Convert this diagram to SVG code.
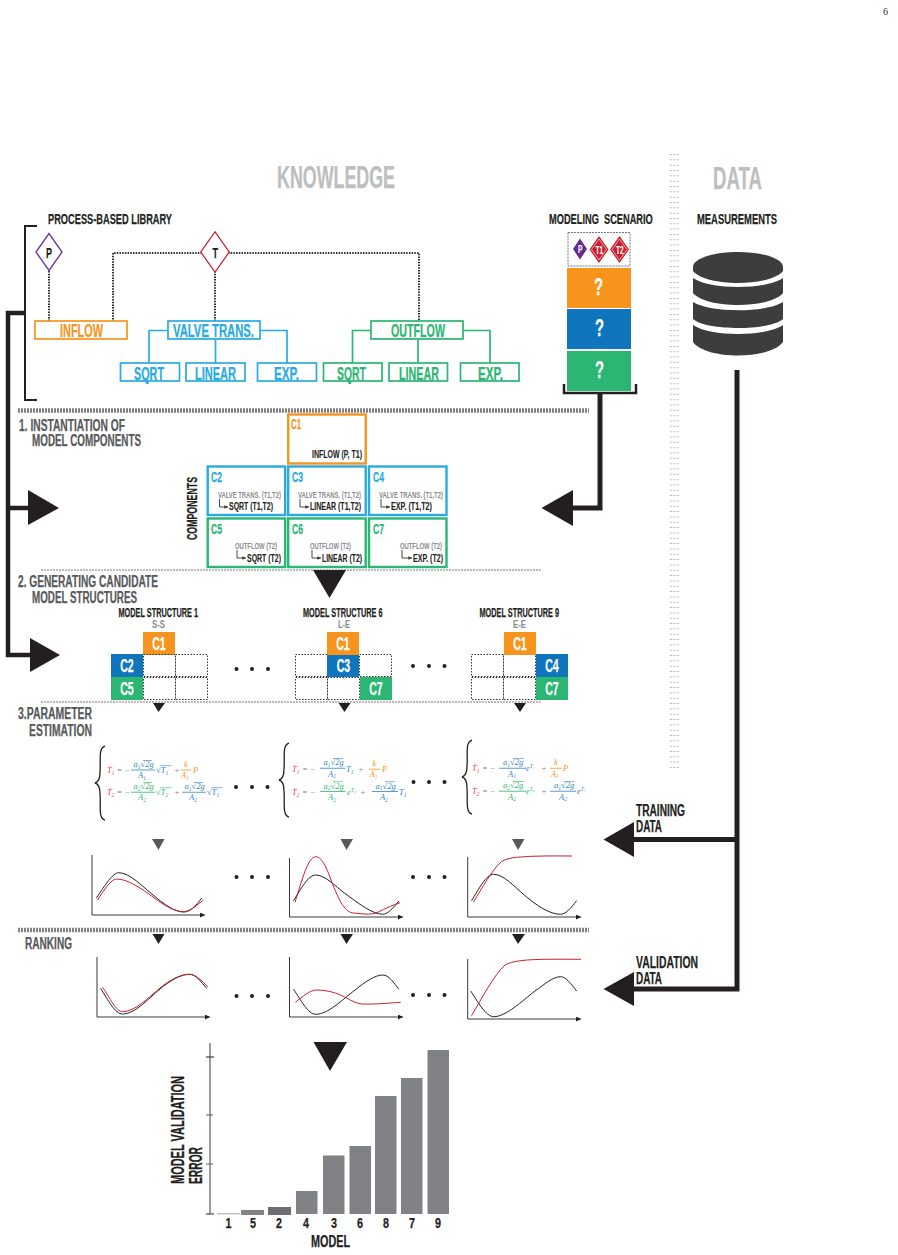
<svg xmlns="http://www.w3.org/2000/svg" width="898" height="1255" viewBox="0 0 898 1255">
<style>
text{font-family:"Liberation Sans Narrow","Liberation Sans",Arial,sans-serif;font-weight:700;stroke-width:.25}
.k{fill:#231f20;stroke:#231f20}.gy{fill:#58595b;stroke:#58595b}.lg{fill:#bcbec0;stroke:#bcbec0}.mg{fill:#8a8c8e}.w{fill:#fff;stroke:#fff}
.or{fill:#f7941d;stroke:#f7941d}.bl{fill:#29abe2;stroke:#29abe2}.gr{fill:#2bb673;stroke:#2bb673}
.h0{font-size:32px}.h1{font-size:15px}.h2{font-size:16px}.h3{font-size:19px}.h4{font-size:23px}.sm{font-size:10px;stroke-width:.1}.xs{font-size:9.500px}.c{font-size:15px}
.cw{font-size:18px;fill:#fff;stroke:#fff;text-anchor:middle}
.line{fill:none;stroke:#231f20}
.dot{fill:none;stroke:#333;stroke-width:2;stroke-dasharray:1.500 1.200}
.bo{fill:none;stroke:#f7941d;stroke-width:1.700}.bb{fill:none;stroke:#29abe2;stroke-width:1.700}.bg{fill:none;stroke:#2bb673;stroke-width:1.700}
.cb{fill:none;stroke-width:2.400}
.bar{fill:none;stroke:#808285;stroke-width:4.500;stroke-dasharray:2 1}
.thin{fill:none;stroke:#777;stroke-width:1;stroke-dasharray:2 1}
.cell{fill:none;stroke:#333;stroke-width:1;stroke-dasharray:1.500 1.500}
.tri{fill:#231f20}.trg{fill:#58595b}
.dots{fill:#231f20}
.ax{fill:none;stroke:#3a3a3a;stroke-width:1}
.cK{fill:none;stroke:#231f20;stroke-width:1}.cR{fill:none;stroke:#c8202f;stroke-width:1}
.ar{fill:none;stroke:#333;stroke-width:.9}
.col{fill:none;stroke:#c4c4c4;stroke-width:2.400;stroke-dasharray:1 4.330}
.m text,text.mt{font-family:"Liberation Serif","DejaVu Serif",serif;font-style:italic;font-weight:400;font-size:8.500px;stroke:none}
.m .s{font-size:5.500px}
.mr{fill:#e8424f}.mn{fill:#808285;font-style:normal}.mb{fill:#2f86c8}.mo{fill:#f7941d}.mgn{fill:#2bb673}
</style>
<defs>
<marker id="ah" markerWidth="5" markerHeight="5" refX="4" refY="2" orient="auto"><path d="M0 0L4 2L0 4Z" fill="#333"/></marker>
<marker id="axh" markerWidth="6" markerHeight="6" refX="5" refY="2.500" orient="auto" markerUnits="userSpaceOnUse"><path d="M0 0L5 2.500L0 5Z" fill="#231f20"/></marker>
</defs>

<text x="883" y="15" style="font-family:'Liberation Serif',serif;font-weight:400;font-size:10px;stroke:none" class="k">6</text>

<g id="headers">
<text class="h0 lg" x="277" y="188" textLength="118" lengthAdjust="spacingAndGlyphs">KNOWLEDGE</text>
<text class="h0 lg" x="713" y="189" textLength="49" lengthAdjust="spacingAndGlyphs">DATA</text>
<text class="h1 k" x="48" y="224" textLength="124" lengthAdjust="spacingAndGlyphs">PROCESS-BASED LIBRARY</text>
<text class="h1 k" transform="translate(549,224) scale(.617,1)" style="white-space:pre">MODELING  SCENARIO</text>
<text class="h1 k" x="697" y="224" textLength="80" lengthAdjust="spacingAndGlyphs">MEASUREMENTS</text>
</g>

<g id="separators">
<line class="col" x1="671" y1="154" x2="671" y2="772"/>
<line class="col" x1="674.500" y1="154" x2="674.500" y2="772"/>
<line class="col" x1="678" y1="154" x2="678" y2="772"/>
<line class="bar" x1="18" y1="410.500" x2="589" y2="410.500"/>
<line class="bar" x1="18" y1="930" x2="589" y2="930"/>
<line class="thin" x1="41" y1="570" x2="541" y2="570"/>
<line class="thin" x1="41" y1="702" x2="541" y2="702"/>
</g>

<g id="connectors">
<path class="line" stroke-width="2" d="M37 226H25V400H37"/>
<path class="line" stroke-width="4.500" d="M25 313H8V655H32M8 508H30"/>
<polygon class="tri" points="28,490 59,508 28,525"/>
<polygon class="tri" points="30,638 60,655 30,672"/>
<path class="line" stroke-width="2.500" d="M564 384V393H636V384"/>
<path class="line" stroke-width="5" d="M600 393V508H570"/>
<polygon class="tri" points="573,490 541.500,508 573,526"/>
<path class="line" stroke-width="5" d="M737 370V989H632M737 839.500H632"/>
<polygon class="tri" points="634,822 603.500,839.500 634,857"/>
<polygon class="tri" points="634,972 603.500,989 634,1006"/>
<path class="dot" d="M49 271V321"/>
<path class="dot" d="M202 253H113V321"/>
<path class="dot" d="M215 271V321"/>
<path class="dot" d="M228 253H419V321"/>
<path class="bb" d="M168 330.500H149V363M260 330.500H287V363M215.500 339V363"/>
<path class="bg" d="M371 330.500H352.500V363M463 330.500H490V363M418 339V363"/>
<polygon class="tri" points="313,570 346,570 329.500,598"/>
<polygon class="tri" points="153,703 165,703 158.500,712"/>
<polygon class="tri" points="338.500,703 350.500,703 344.500,712"/>
<polygon class="tri" points="514,703 526,703 520,712"/>
<polygon class="trg" points="152,839 164.500,839 158.500,850"/>
<polygon class="trg" points="340.500,839 353,839 346.500,850"/>
<polygon class="trg" points="512,839 524.500,839 518,850"/>
<polygon class="tri" points="152.500,934 164.500,934 158.500,944"/>
<polygon class="tri" points="340.500,934 353,934 346.500,944"/>
<polygon class="tri" points="512,934 525,934 518,944"/>
<polygon class="tri" points="313.500,1042 347,1042 330,1071"/>
</g>

<g id="library-P"><polygon points="49,233.500 62,252 49,270.500 36,252" fill="#fff" stroke="#6b3fa0" stroke-width="1.400"/><text class="h1 k" x="46" y="258" textLength="6" lengthAdjust="spacingAndGlyphs">P</text></g>
<g id="library-T"><polygon points="215,233.500 228,252 215,270.500 202,252" fill="#fff" stroke="#c8202f" stroke-width="3.200"/><polygon points="215,233.500 228,252 215,270.500 202,252" fill="#fff" stroke="#fff" stroke-width=".9"/><text class="h1 k" x="212.500" y="258" textLength="5.500" lengthAdjust="spacingAndGlyphs">T</text></g>

<g id="inflow"><rect class="bo" x="35" y="321" width="92" height="18"/><text class="h3 or" x="60" y="337" textLength="43" lengthAdjust="spacingAndGlyphs">INFLOW</text></g>
<g id="valve"><rect class="bb" x="168" y="321" width="92" height="18"/><text class="h3 bl" x="173" y="337" textLength="81" lengthAdjust="spacingAndGlyphs">VALVE TRANS.</text></g>
<g id="outflow"><rect class="bg" x="371" y="321" width="92" height="18"/><text class="h3 gr" x="391" y="337" textLength="54" lengthAdjust="spacingAndGlyphs">OUTFLOW</text></g>
<g id="valve-sqrt"><rect class="bb" x="120.500" y="363" width="59" height="18"/><text class="h3 bl" x="134" y="380" textLength="30" lengthAdjust="spacingAndGlyphs">SQRT</text></g>
<g id="valve-linear"><rect class="bb" x="186" y="363" width="59" height="18"/><text class="h3 bl" x="195" y="380" textLength="41" lengthAdjust="spacingAndGlyphs">LINEAR</text></g>
<g id="valve-exp"><rect class="bb" x="257.500" y="363" width="59" height="18"/><text class="h3 bl" x="274" y="380" textLength="25" lengthAdjust="spacingAndGlyphs">EXP.</text></g>
<g id="outflow-sqrt"><rect class="bg" x="323.500" y="363" width="58.500" height="18"/><text class="h3 gr" x="337" y="380" textLength="29" lengthAdjust="spacingAndGlyphs">SQRT</text></g>
<g id="outflow-linear"><rect class="bg" x="389" y="363" width="58.500" height="18"/><text class="h3 gr" x="399" y="380" textLength="40" lengthAdjust="spacingAndGlyphs">LINEAR</text></g>
<g id="outflow-exp"><rect class="bg" x="460.500" y="363" width="58.500" height="18"/><text class="h3 gr" x="478" y="380" textLength="25" lengthAdjust="spacingAndGlyphs">EXP.</text></g>

<g id="scenario">
<rect x="568" y="232.500" width="62" height="33.500" fill="none" stroke="#777" stroke-width="1" stroke-dasharray="2 1"/>
<polygon points="580,238.500 587,249 580,259.500 573,249" fill="#662d91"/><text class="sm w" x="578" y="253" textLength="4.500" lengthAdjust="spacingAndGlyphs">P</text>
<polygon points="599,236 608.500,249.500 599,263 589.500,249.500" fill="#c8202f"/><polygon points="599,239 606.500,249.500 599,260 591.500,249.500" fill="#c8202f" stroke="#fff" stroke-width=".6"/><text class="sm w" x="595.500" y="253.500" textLength="7.500" lengthAdjust="spacingAndGlyphs">T1</text>
<polygon points="619.500,236 629,249.500 619.500,263 610,249.500" fill="#c8202f"/><polygon points="619.500,239 627,249.500 619.500,260 612,249.500" fill="#c8202f" stroke="#fff" stroke-width=".6"/><text class="sm w" x="616" y="253.500" textLength="7.500" lengthAdjust="spacingAndGlyphs">T2</text>
<rect x="567" y="268" width="64" height="40" fill="#f7941d"/><text class="h4 w" x="594" y="295" textLength="9" lengthAdjust="spacingAndGlyphs">?</text>
<rect x="567" y="309" width="64" height="40" fill="#0f75bc"/><text class="h4 w" x="595" y="335.500" textLength="9" lengthAdjust="spacingAndGlyphs">?</text>
<rect x="567" y="351" width="64" height="40" fill="#2bb673"/><text class="h4 w" x="595" y="378" textLength="9" lengthAdjust="spacingAndGlyphs">?</text>
</g>

<g id="database" fill="#3d3d3d">
<path d="M693 267C693 258 715 252 738 252C761 252 783 258 783 267V271C770 287 706 287 693 271Z"/>
<path d="M693 278C710 290 766 290 783 278V293C770 309 706 309 693 293Z"/>
<path d="M693 302C710 313 766 313 783 302V319C770 331 706 331 693 319Z"/>
<path d="M693 325C710 337 766 337 783 325V342C770 360 706 360 693 342Z"/>
</g>

<g id="step1">
<text class="h2 gy" x="19" y="431" textLength="106" lengthAdjust="spacingAndGlyphs">1. INSTANTIATION OF</text>
<text class="h2 gy" x="32" y="446" textLength="109" lengthAdjust="spacingAndGlyphs">MODEL COMPONENTS</text>
<text class="h1 k" transform="translate(197,540) rotate(-90)" textLength="63" lengthAdjust="spacingAndGlyphs">COMPONENTS</text>
</g>

<g id="C1-box"><rect class="cb" x="288.200" y="414.500" width="77.500" height="49" stroke="#f7941d"/><text class="c or" x="291" y="429" textLength="10" lengthAdjust="spacingAndGlyphs">C1</text><text class="sm k" x="312" y="458" textLength="50" lengthAdjust="spacingAndGlyphs">INFLOW (P, T1)</text></g>
<g id="C2-box"><rect class="cb" x="207.700" y="466.500" width="77.500" height="48.500" stroke="#29abe2"/><text class="c bl" x="211" y="482" textLength="11" lengthAdjust="spacingAndGlyphs">C2</text><text class="xs mg" transform="translate(218,498) scale(.618,1)">VALVE TRANS. (T1,T2)</text><path class="ar" marker-end="url(#ah)" d="M219.500 499V507H228"/><text class="sm k" x="229" y="510" textLength="44" lengthAdjust="spacingAndGlyphs">SQRT (T1,T2)</text></g>
<g id="C3-box"><rect class="cb" x="288.200" y="466.500" width="77.500" height="48.500" stroke="#29abe2"/><text class="c bl" x="292" y="482" textLength="11" lengthAdjust="spacingAndGlyphs">C3</text><text class="xs mg" transform="translate(298,498) scale(.618,1)">VALVE TRANS. (T1,T2)</text><path class="ar" marker-end="url(#ah)" d="M300 499V507H309"/><text class="sm k" x="310" y="510" textLength="51" lengthAdjust="spacingAndGlyphs">LINEAR (T1,T2)</text></g>
<g id="C4-box"><rect class="cb" x="369" y="466.500" width="77.500" height="48.500" stroke="#29abe2"/><text class="c bl" x="373" y="482" textLength="11" lengthAdjust="spacingAndGlyphs">C4</text><text class="xs mg" x="379" y="498" textLength="64" lengthAdjust="spacingAndGlyphs">VALVE TRANS. (T1,T2)</text><path class="ar" marker-end="url(#ah)" d="M381 499V507H390"/><text class="sm k" x="391" y="510" textLength="41" lengthAdjust="spacingAndGlyphs">EXP. (T1,T2)</text></g>
<g id="C5-box"><rect class="cb" x="207.700" y="518.500" width="77.500" height="48.500" stroke="#2bb673"/><text class="c gr" x="211" y="534" textLength="11" lengthAdjust="spacingAndGlyphs">C5</text><text class="xs mg" x="235" y="549" textLength="42" lengthAdjust="spacingAndGlyphs">OUTFLOW (T2)</text><path class="ar" marker-end="url(#ah)" d="M237 550V558H246"/><text class="sm k" x="247" y="562" textLength="34" lengthAdjust="spacingAndGlyphs">SQRT (T2)</text></g>
<g id="C6-box"><rect class="cb" x="288.200" y="518.500" width="77.500" height="48.500" stroke="#2bb673"/><text class="c gr" x="292" y="534" textLength="11" lengthAdjust="spacingAndGlyphs">C6</text><text class="xs mg" x="310" y="549" textLength="41" lengthAdjust="spacingAndGlyphs">OUTFLOW (T2)</text><path class="ar" marker-end="url(#ah)" d="M312 550V558H321"/><text class="sm k" x="322" y="562" textLength="40" lengthAdjust="spacingAndGlyphs">LINEAR (T2)</text></g>
<g id="C7-box"><rect class="cb" x="369" y="518.500" width="77.500" height="48.500" stroke="#2bb673"/><text class="c gr" x="373" y="534" textLength="11" lengthAdjust="spacingAndGlyphs">C7</text><text class="xs mg" x="400" y="549" textLength="42" lengthAdjust="spacingAndGlyphs">OUTFLOW (T2)</text><path class="ar" marker-end="url(#ah)" d="M402 550V558H412"/><text class="sm k" x="413" y="562" textLength="30" lengthAdjust="spacingAndGlyphs">EXP. (T2)</text></g>

<g id="step2">
<text class="h2 gy" x="18" y="587" textLength="140" lengthAdjust="spacingAndGlyphs">2. GENERATING CANDIDATE</text>
<text class="h2 gy" x="32" y="603" textLength="105" lengthAdjust="spacingAndGlyphs">MODEL STRUCTURES</text>
</g>

<g id="structure-1">
<text class="h1 k" style="font-size:12px" x="118.500" y="617" textLength="79.500" lengthAdjust="spacingAndGlyphs">MODEL STRUCTURE 1</text>
<text class="mg" style="font-size:11px" x="152" y="628" textLength="13" lengthAdjust="spacingAndGlyphs">S-S</text>
<rect x="143" y="632" width="32" height="23" fill="#f7941d"/><text class="cw" x="159" y="650" textLength="13.500" lengthAdjust="spacingAndGlyphs">C1</text>
<rect x="111" y="654" width="32" height="23" fill="#0f75bc"/><text class="cw" x="127" y="672" textLength="13.500" lengthAdjust="spacingAndGlyphs">C2</text>
<rect x="111" y="677" width="32" height="23" fill="#2bb673"/><text class="cw" x="127" y="695" textLength="13.500" lengthAdjust="spacingAndGlyphs">C5</text>
<rect class="cell" x="143.500" y="654.500" width="32" height="22"/><rect class="cell" x="175.500" y="654.500" width="32" height="22"/>
<rect class="cell" x="143.500" y="677.500" width="32" height="22"/><rect class="cell" x="175.500" y="677.500" width="32" height="22"/>
</g>
<g id="structure-6">
<text class="h1 k" style="font-size:12px" x="303" y="617" textLength="79.500" lengthAdjust="spacingAndGlyphs">MODEL STRUCTURE 6</text>
<text class="mg" style="font-size:11px" x="338" y="628" textLength="12" lengthAdjust="spacingAndGlyphs">L-E</text>
<rect class="cell" x="295.500" y="654.500" width="32" height="22"/><rect class="cell" x="359.500" y="654.500" width="32" height="22"/>
<rect class="cell" x="295.500" y="677.500" width="32" height="22"/><rect class="cell" x="327.500" y="677.500" width="32" height="22"/>
<rect x="327" y="632" width="32" height="23" fill="#f7941d"/><text class="cw" x="343" y="650" textLength="13.500" lengthAdjust="spacingAndGlyphs">C1</text>
<rect x="327" y="655" width="32" height="22" fill="#0f75bc"/><text class="cw" x="343.500" y="672" textLength="13.500" lengthAdjust="spacingAndGlyphs">C3</text>
<rect x="360" y="677" width="32" height="23" fill="#2bb673"/><text class="cw" x="376" y="695" textLength="13.500" lengthAdjust="spacingAndGlyphs">C7</text>
</g>
<g id="structure-9">
<text class="h1 k" style="font-size:12px" x="479.500" y="617" textLength="79.500" lengthAdjust="spacingAndGlyphs">MODEL STRUCTURE 9</text>
<text class="mg" style="font-size:11px" x="513" y="628" textLength="13" lengthAdjust="spacingAndGlyphs">E-E</text>
<rect class="cell" x="471.500" y="654.500" width="32" height="22"/><rect class="cell" x="503.500" y="654.500" width="32" height="22"/>
<rect class="cell" x="471.500" y="677.500" width="32" height="22"/><rect class="cell" x="503.500" y="677.500" width="32" height="22"/>
<rect x="504" y="632" width="32" height="23" fill="#f7941d"/><text class="cw" x="520" y="650" textLength="13.500" lengthAdjust="spacingAndGlyphs">C1</text>
<rect x="536" y="654" width="32" height="23" fill="#0f75bc"/><text class="cw" x="552" y="672" textLength="13.500" lengthAdjust="spacingAndGlyphs">C4</text>
<rect x="536" y="677" width="32" height="23" fill="#2bb673"/><text class="cw" x="552" y="695" textLength="13.500" lengthAdjust="spacingAndGlyphs">C7</text>
</g>

<g id="ellipses" class="dots">
<circle cx="236.500" cy="669" r="2"/><circle cx="252" cy="669" r="2"/><circle cx="268" cy="669" r="2"/>
<circle cx="413" cy="666" r="2"/><circle cx="429" cy="666" r="2"/><circle cx="444.500" cy="666" r="2"/>
<circle cx="236" cy="787" r="2"/><circle cx="252" cy="787" r="2"/><circle cx="267.500" cy="787" r="2"/>
<circle cx="413.500" cy="782" r="2"/><circle cx="429" cy="782" r="2"/><circle cx="444.500" cy="782" r="2"/>
<circle cx="236.500" cy="877" r="2"/><circle cx="252" cy="877" r="2"/><circle cx="268" cy="877" r="2"/>
<circle cx="413" cy="877" r="2"/><circle cx="429" cy="877" r="2"/><circle cx="444.500" cy="877" r="2"/>
<circle cx="236.500" cy="996" r="2"/><circle cx="252" cy="996" r="2"/><circle cx="268" cy="996" r="2"/>
<circle cx="413" cy="995" r="2"/><circle cx="429" cy="995" r="2"/><circle cx="444.500" cy="995" r="2"/>
</g>

<g id="step3">
<text class="h2 gy" x="18" y="719" textLength="74" lengthAdjust="spacingAndGlyphs">3.PARAMETER</text>
<text class="h2 gy" x="29" y="736" textLength="63" lengthAdjust="spacingAndGlyphs">ESTIMATION</text>
<text class="h2 gy" x="25" y="949" textLength="47" lengthAdjust="spacingAndGlyphs">RANKING</text>
</g>

<g id="equations-1" class="m">
<path d="M105 746C98 748 101 760 100 772C100 778 99 782 95 783C99 784 100 788 100 794C101 806 98 818 105 820" fill="none" stroke="#231f20" stroke-width="1.300"/>
<text class="mr" x="107" y="773">Ṫ<tspan class="s" dy="1.500">1</tspan></text><text class="mn" x="116.500" y="773">= −</text>
<g class="mb" transform="translate(131,769.600)"><rect width="24" height=".8"/><rect x="12" y="-9.500" width="9" height=".6"/><text x="2.500" y="-2.500">a<tspan class="s" dy="1.500">1</tspan><tspan dy="-1.500">√2g</tspan></text><text x="7" y="8.500">A<tspan class="s" dy="1.500">1</tspan></text></g>
<g class="mb"><text x="156" y="773">√T<tspan class="s" dy="1.500">1</tspan></text><rect x="160.500" y="765.500" width="11" height=".6"/></g>
<text class="mn" x="174" y="773">+</text>
<g class="mo" transform="translate(181,769.600)"><rect width="10" height=".8"/><text x="3" y="-2.500">k</text><text x="0" y="8.500">A<tspan class="s" dy="1.500">1</tspan></text></g>
<text class="mo" x="193" y="773">P</text>
<text class="mr" x="107" y="795">Ṫ<tspan class="s" dy="1.500">2</tspan></text><text class="mn" x="116.500" y="795">= −</text>
<g class="mgn" transform="translate(131,791.800)"><rect width="24" height=".8"/><rect x="12" y="-9.500" width="9" height=".6"/><text x="2.500" y="-2.500">a<tspan class="s" dy="1.500">2</tspan><tspan dy="-1.500">√2g</tspan></text><text x="7" y="8.500">A<tspan class="s" dy="1.500">2</tspan></text></g>
<g class="mgn"><text x="156" y="795">√T<tspan class="s" dy="1.500">2</tspan></text><rect x="160.500" y="787.500" width="11" height=".6"/></g>
<text class="mn" x="174" y="795">+</text>
<g class="mb" transform="translate(182,791.800)"><rect width="24" height=".8"/><rect x="12" y="-9.500" width="9" height=".6"/><text x="2.500" y="-2.500">a<tspan class="s" dy="1.500">1</tspan><tspan dy="-1.500">√2g</tspan></text><text x="7" y="8.500">A<tspan class="s" dy="1.500">2</tspan></text></g>
<g class="mb"><text x="207" y="795">√T<tspan class="s" dy="1.500">1</tspan></text><rect x="211.500" y="787.500" width="11" height=".6"/></g>
</g>

<g id="equations-6" class="m">
<path d="M289 743C282 745 285 757 284 769C284 775 283 779 279 780C283 781 284 785 284 791C285 803 282 815 289 817" fill="none" stroke="#231f20" stroke-width="1.300"/>
<text class="mr" x="292" y="772">Ṫ<tspan class="s" dy="1.500">1</tspan></text><text class="mn" x="302" y="772">= −</text>
<g class="mb" transform="translate(320,767.800)"><rect width="25.500" height=".8"/><rect x="13" y="-9.500" width="10" height=".6"/><text x="3.500" y="-2.500">a<tspan class="s" dy="1.500">1</tspan><tspan dy="-1.500">√2g</tspan></text><text x="8" y="9">A<tspan class="s" dy="1.500">1</tspan></text></g>
<text class="mb" x="346" y="772">T<tspan class="s" dy="1.500">1</tspan></text>
<text class="mn" x="358" y="772">+</text>
<g class="mo" transform="translate(369,768.800)"><rect width="11" height=".8"/><text x="3.500" y="-2.500">k</text><text x=".5" y="8.500">A<tspan class="s" dy="1.500">1</tspan></text></g>
<text class="mo" x="382" y="772">P</text>
<text class="mr" x="292" y="795">Ṫ<tspan class="s" dy="1.500">2</tspan></text><text class="mn" x="302" y="795">= −</text>
<g class="mgn" transform="translate(320,791)"><rect width="25.500" height=".8"/><rect x="13" y="-9.500" width="10" height=".6"/><text x="3.500" y="-2.500">a<tspan class="s" dy="1.500">2</tspan><tspan dy="-1.500">√2g</tspan></text><text x="8" y="9">A<tspan class="s" dy="1.500">2</tspan></text></g>
<text class="mgn" x="347" y="795">e<tspan class="s" dy="-3">T₂</tspan></text>
<text class="mn" x="360" y="795">+</text>
<g class="mb" transform="translate(372,791)"><rect width="26" height=".8"/><rect x="13" y="-9.500" width="10" height=".6"/><text x="3.500" y="-2.500">a<tspan class="s" dy="1.500">1</tspan><tspan dy="-1.500">√2g</tspan></text><text x="8" y="9">A<tspan class="s" dy="1.500">2</tspan></text></g>
<text class="mb" x="399" y="795">T<tspan class="s" dy="1.500">1</tspan></text>
</g>

<g id="equations-9" class="m">
<path d="M472 740C465 742 468 754 467 766C467 772 466 776 462 777C466 778 467 782 467 788C468 800 465 812 472 814" fill="none" stroke="#231f20" stroke-width="1.300"/>
<text class="mr" x="472" y="771">Ṫ<tspan class="s" dy="1.500">1</tspan></text><text class="mn" x="482" y="771">= −</text>
<g class="mb" transform="translate(499,767.800)"><rect width="27" height=".8"/><rect x="14" y="-9.500" width="11" height=".6"/><text x="4" y="-2.500">a<tspan class="s" dy="1.500">1</tspan><tspan dy="-1.500">√2g</tspan></text><text x="9" y="9">A<tspan class="s" dy="1.500">1</tspan></text></g>
<text class="mb" x="526" y="771">e<tspan class="s" dy="-3">T₁</tspan></text>
<text class="mn" x="541" y="771">+</text>
<g class="mo" transform="translate(550,767.800)"><rect width="12" height=".8"/><text x="4" y="-2.500">k</text><text x="1" y="9">A<tspan class="s" dy="1.500">1</tspan></text></g>
<text class="mo" x="563" y="771">P</text>
<text class="mr" x="472" y="794">Ṫ<tspan class="s" dy="1.500">2</tspan></text><text class="mn" x="482" y="794">= −</text>
<g class="mgn" transform="translate(499,790.800)"><rect width="27" height=".8"/><rect x="14" y="-9.500" width="11" height=".6"/><text x="4" y="-2.500">a<tspan class="s" dy="1.500">2</tspan><tspan dy="-1.500">√2g</tspan></text><text x="9" y="9">A<tspan class="s" dy="1.500">2</tspan></text></g>
<text class="mgn" x="526" y="794">e<tspan class="s" dy="-3">T₂</tspan></text>
<text class="mn" x="541" y="794">+</text>
<g class="mb" transform="translate(550,790.800)"><rect width="26" height=".8"/><rect x="14" y="-9.500" width="10" height=".6"/><text x="4" y="-2.500">a<tspan class="s" dy="1.500">1</tspan><tspan dy="-1.500">√2g</tspan></text><text x="9" y="9">A<tspan class="s" dy="1.500">2</tspan></text></g>
<text class="mb" x="577" y="794">e<tspan class="s" dy="-3">T₁</tspan></text>
</g>

<g id="training-charts">
<path class="ax" marker-end="url(#axh)" d="M92 855V915H205"/>
<path class="cK" d="M96.400 898C105 885 113 872.700 118.600 872.700C130 872.700 143 887 153 895C165 905 175 912 184 912C190 912 196 906 201.700 898"/>
<path class="cR" d="M97.600 900C104 890 111 879 116.700 879C128 879 142 889 153 897C165 906 175 912 184 911.700C191 911 197 905 203.600 900"/>
<path class="ax" marker-end="url(#axh)" d="M289.500 858V917H403"/>
<path class="cK" d="M293.500 900.700C301 889 308 875 315.700 875C325 875 335 886 344.400 893C358 903 372 914 382.700 914.300C388 914 393 908 399 901"/>
<path class="cR" d="M295 902.300C302 880 308 856.700 315.700 856.700C323 856.700 328 872 333 885C339 900 345 913 354 913C362 914 370 915 377 912.700C386 908 393 905 400 902.700"/>
<path class="ax" marker-end="url(#axh)" d="M467.700 857V917H581"/>
<path class="cK" d="M471.500 900.700C479 889 486 874.300 493.700 874.300C503 874.300 514 886 524.300 895C537 906 550 914.300 560.600 914.300C566 914 571 908 576.700 900.700"/>
<path class="cR" d="M473.400 902.300C482 888 492 870 501.300 861.700C505 859 511 858 516.600 857.300C535 855.500 555 856 572 856"/>
</g>

<g id="validation-charts">
<path class="ax" marker-end="url(#axh)" d="M97 957V1017H210"/>
<path class="cK" d="M100.600 988.300C108 1000 115 1014 122.500 1014C135 1014 148 999 160 989C170 981 180 974.300 189.400 974.300C196 974.300 201 982 206.700 988.300"/>
<path class="cR" d="M102.600 987.300C110 998 116 1011.700 122.500 1011.700C135 1011.700 148 998 160 988C170 980 180 974.300 189.400 974.300C196 974.300 202 981 207.800 986.700"/>
<path class="ax" marker-end="url(#axh)" d="M289.500 957V1017H403"/>
<path class="cK" d="M293.500 989.300C301 1000 308 1014.300 315.700 1014.300C328 1014.300 342 1000 355 990C365 982 375 975 382.700 975C389 975 394 983 398.800 989.300"/>
<path class="cR" d="M295.400 1002.300C302 997 310 990 316.900 990C325 990 334 992 340.600 995C348 998 353 1003 361.600 1004C375 1004.500 390 1003 400.700 1002.300"/>
<path class="ax" marker-end="url(#axh)" d="M467.700 959V1019H581"/>
<path class="cK" d="M470.700 991C478 1002 486 1016.700 493.700 1016.700C506 1016.700 522 1001 535 991C545 984 553 976.700 560.600 976.700C566 976.700 571 984 576.700 991"/>
<path class="cR" d="M471.500 1015.700C482 998 494 975 505 965C512 961 525 960 535.800 959.500C550 959 566 959.300 581 959.300"/>
</g>

<g id="data-labels">
<text class="h2 k" x="636" y="816" textLength="49" lengthAdjust="spacingAndGlyphs">TRAINING</text>
<text class="h2 k" x="636" y="832" textLength="26" lengthAdjust="spacingAndGlyphs">DATA</text>
<text class="h2 k" x="636" y="968" textLength="62" lengthAdjust="spacingAndGlyphs">VALIDATION</text>
<text class="h2 k" x="636" y="984" textLength="26" lengthAdjust="spacingAndGlyphs">DATA</text>
</g>

<g id="bar-chart">
<line x1="210" y1="1043" x2="210" y2="1214" stroke="#58595b" stroke-width="1.200"/>
<path d="M206 1057H214M206 1214H214" stroke="#231f20" stroke-width="1"/>
<path d="M206 1115H213M206 1164H213" stroke="#58595b" stroke-width="1"/>
<g fill="#808285">
<rect x="217" y="1213.500" width="23" height=".7"/>
<rect x="241" y="1210" width="23" height="5"/>
<rect x="268" y="1207" width="23" height="8" fill="#6d6e71"/>
<rect x="296" y="1191" width="21.500" height="23"/>
<rect x="323" y="1155.500" width="21.500" height="58.500"/>
<rect x="349.500" y="1146" width="21.500" height="68"/>
<rect x="375" y="1096" width="21.500" height="118"/>
<rect x="401" y="1078" width="21.500" height="136"/>
<rect x="427.500" y="1050" width="21.500" height="164"/>
</g>
<g style="font-size:15px">
<text class="k" x="225.500" y="1228" textLength="6" lengthAdjust="spacingAndGlyphs">1</text><text class="k" x="250" y="1228" textLength="6" lengthAdjust="spacingAndGlyphs">5</text><text class="k" x="276" y="1228" textLength="6" lengthAdjust="spacingAndGlyphs">2</text><text class="k" x="303" y="1228" textLength="6" lengthAdjust="spacingAndGlyphs">4</text><text class="k" x="331" y="1228" textLength="6" lengthAdjust="spacingAndGlyphs">3</text><text class="k" x="357" y="1228" textLength="6" lengthAdjust="spacingAndGlyphs">6</text><text class="k" x="383" y="1228" textLength="6" lengthAdjust="spacingAndGlyphs">8</text><text class="k" x="409" y="1228" textLength="6" lengthAdjust="spacingAndGlyphs">7</text><text class="k" x="435" y="1228" textLength="6" lengthAdjust="spacingAndGlyphs">9</text>
</g>
<text class="h2 k" x="311" y="1247" textLength="39" lengthAdjust="spacingAndGlyphs">MODEL</text>
<text class="h3 k" transform="translate(184,1184) rotate(-90)" textLength="108" lengthAdjust="spacingAndGlyphs">MODEL VALIDATION</text>
<text class="h3 k" transform="translate(202,1184) rotate(-90)" textLength="37" lengthAdjust="spacingAndGlyphs">ERROR</text>
</g>
</svg>
